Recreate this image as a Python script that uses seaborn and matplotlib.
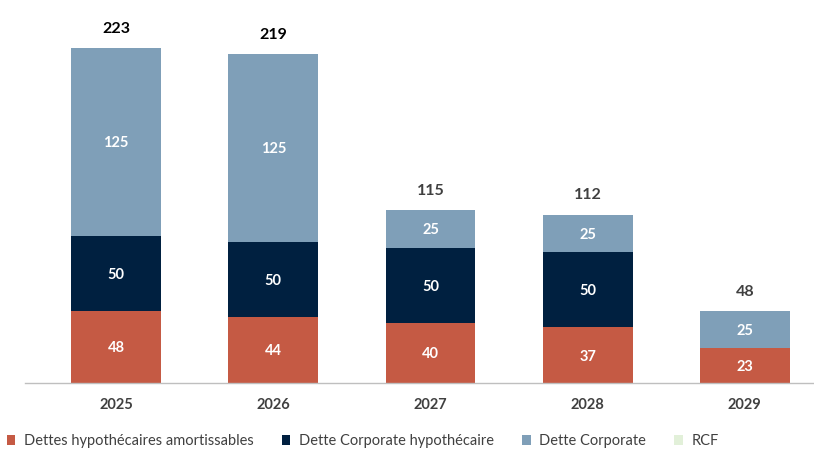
import numpy as np
import pandas as pd
import matplotlib.pyplot as plt
import seaborn as sns
from matplotlib.patches import Patch

# data
years = ["2025", "2026", "2027", "2028", "2029"]
amortissables = [48, 44, 40, 37, 23]
corp_hypo = [50, 50, 50, 50, 0]
corporate = [125, 125, 25, 25, 25]
rcf = [0, 0, 0, 0, 0]

series_names = ["Dettes hypothécaires amortissables", "Dette Corporate hypothécaire",
                "Dette Corporate", "RCF"]
colors = ["#C55A44", "#002040", "#7F9FB8", "#E2F0D9"]
total_colors = ["#000000", "#000000", "#404040", "#404040", "#404040"]

sns.set_theme(style="white")
plt.rcParams["font.family"] = ["Lato", "DejaVu Sans"]

df = pd.DataFrame({"year": years, "a": amortissables, "b": corp_hypo,
                   "c": corporate, "d": rcf})
layers = np.array([df["a"], df["b"], df["c"], df["d"]])
cum = np.cumsum(layers, axis=0)
totals = cum[-1]

fig = plt.figure(figsize=(8.14, 4.51), dpi=100)
ax = fig.add_axes([25 / 814, 0.151, 1 - 25 / 814, 0.80])

# stacked bars: draw cumulative heights from top layer down
for i in range(3, -1, -1):
    sns.barplot(x=df["year"], y=cum[i], color=colors[i], width=0.572,
                saturation=1, linewidth=0, ax=ax)

# segment labels
for j in range(len(years)):
    for i in range(4):
        v = layers[i][j]
        if v > 0:
            mid = cum[i][j] - v / 2
            ax.text(j, mid, f"{v:.0f}", ha="center", va="center_baseline",
                    color="white", fontsize=10.5, fontweight="bold")
    ax.text(j, totals[j] + 8, f"{totals[j]:.0f}", ha="center", va="bottom",
            color=total_colors[j], fontsize=11.5, fontweight="bold")

ax.set_xlim(-0.58, 4.44)
ax.set_ylim(0, 240)
ax.set_xlabel("")
ax.set_ylabel("")
ax.set_yticks([])
ax.tick_params(axis="x", length=0, pad=11, labelsize=10.5, colors="#404040")
for lbl in ax.get_xticklabels():
    lbl.set_fontweight("bold")
for s in ["top", "right", "left"]:
    ax.spines[s].set_visible(False)
ax.spines["bottom"].set_color("#BFBFBF")
ax.spines["bottom"].set_linewidth(1.0)

handles = [Patch(facecolor=c, edgecolor="none") for c in colors]
fig.legend(handles, series_names, loc="center left", bbox_to_anchor=(-0.008, 0.022),
           ncol=4, frameon=False, fontsize=10.5, labelcolor="#404040",
           handlelength=0.6, handleheight=0.6, handletextpad=0.6, columnspacing=1.9)

fig.savefig("out.png", dpi=100)
